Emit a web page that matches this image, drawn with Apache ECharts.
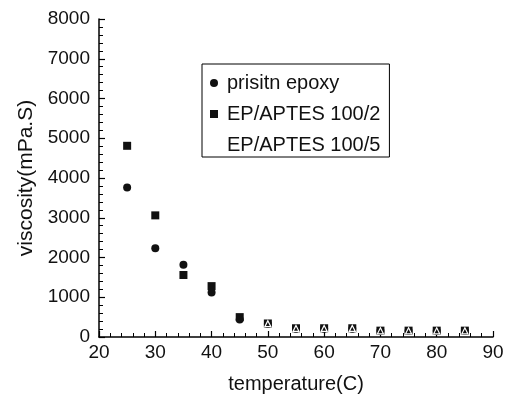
<!DOCTYPE html>
<html>
<head>
<meta charset="utf-8">
<script src="https://cdn.jsdelivr.net/npm/echarts@6/dist/echarts.min.js"></script>
<style>
  html, body { margin: 0; padding: 0; background: #fff; }
  #chart { width: 510px; height: 394px; }
</style>
</head>
<body>
<div id="chart"></div>
<script>
// 数据
const temperature = [25, 30, 35, 40, 45, 50, 55, 60, 65, 70, 75, 80, 85];
const pristine = [3760, 2230, 1820, 1120, 440, 330, 210, 210, 210, 150, 150, 150, 150];
const aptes2 = [4810, 3060, 1560, 1280, 500, 340, 220, 220, 220, 160, 160, 160, 160];
const temp5 = [50, 55, 60, 65, 70, 75, 80, 85];
const aptes5 = [335, 215, 215, 215, 155, 155, 155, 155];

const font = '"Liberation Sans", Arial, sans-serif';

var chart = echarts.init(document.getElementById('chart'));

function pairs(xs, ys) {
    return xs.map((x, i) => [x, ys[i]]);
}

const option = {
    animation: false,
    backgroundColor: '#fff',
    grid: { left: 99, right: 17, top: 19, bottom: 57, outerBoundsMode: 'none', containLabel: false },
    legend: {
        orient: 'vertical',
        left: 202,
        top: 64,
        padding: [9, 9, 2, 7],
        itemGap: 11,
        itemWidth: 8,
        itemHeight: 8,
        itemTextGap: 10,
        borderColor: '#000',
        borderWidth: 1,
        textStyle: { fontFamily: font, fontSize: 20, color: '#111', padding: [0, 0, 0, 4] },
        data: ['prisitn epoxy', 'EP/APTES 100/2', 'EP/APTES 100/5']
    },
    xAxis: {
        type: 'value',
        min: 20, max: 90, interval: 10,
        name: 'temperature(C)',
        nameLocation: 'middle',
        nameGap: 37,
        nameTextStyle: { fontFamily: font, fontSize: 20, color: '#111' },
        splitLine: { show: false },
        axisLine: { lineStyle: { color: '#000', width: 1.5 } },
        axisTick: { inside: true, length: 6, lineStyle: { color: '#000', width: 1.2 } },
        minorTick: { show: true, splitNumber: 5, length: 4, lineStyle: { color: '#000', width: 1 } },
        axisLabel: { fontFamily: font, fontSize: 19, color: '#111', margin: 6 }
    },
    yAxis: {
        type: 'value',
        min: 0, max: 8000, interval: 1000,
        name: 'viscosity(mPa.S)',
        nameLocation: 'middle',
        nameGap: 62,
        nameTextStyle: { fontFamily: font, fontSize: 21, color: '#111' },
        splitLine: { show: false },
        axisLine: { show: true, lineStyle: { color: '#000', width: 1.5 } },
        axisTick: { show: true, inside: true, length: 6, lineStyle: { color: '#000', width: 1.2 } },
        minorTick: { show: true, splitNumber: 5, length: 4, lineStyle: { color: '#000', width: 1 } },
        axisLabel: {
            fontFamily: font, fontSize: 19, color: '#111', margin: 9,
            formatter: v => String(v)
        }
    },
    series: [
        {
            name: 'prisitn epoxy',
            type: 'scatter',
            symbol: 'circle',
            symbolSize: 8,
            itemStyle: { color: '#111', opacity: 1 },
            data: pairs(temperature, pristine)
        },
        {
            name: 'EP/APTES 100/2',
            type: 'scatter',
            symbol: 'rect',
            symbolSize: 8,
            itemStyle: { color: '#111', opacity: 1 },
            data: pairs(temperature, aptes2)
        },
        {
            name: 'EP/APTES 100/5',
            type: 'scatter',
            symbol: 'triangle',
            symbolSize: 6,
            itemStyle: { color: 'transparent', borderColor: '#fff', borderWidth: 1.2, opacity: 1 },
            data: pairs(temp5, aptes5)
        }
    ]
};

chart.setOption(option);
</script>
</body>
</html>
